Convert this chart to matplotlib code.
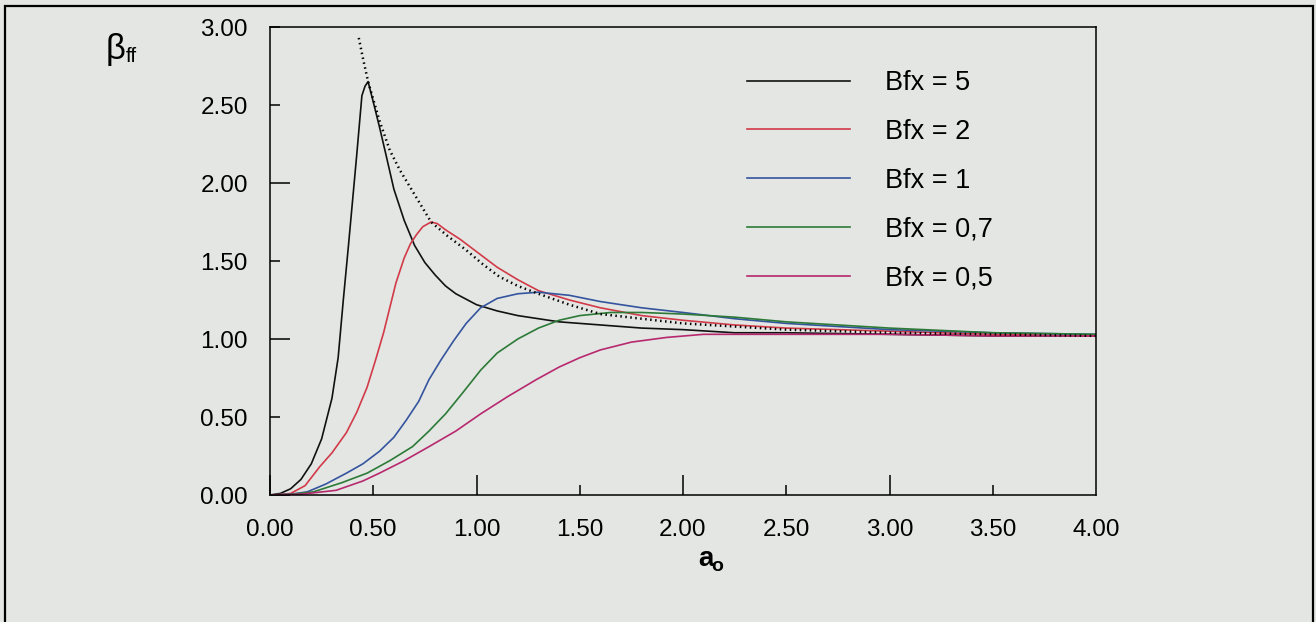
import numpy as np
import matplotlib
matplotlib.use("Agg")
import matplotlib.pyplot as plt
from matplotlib.patches import Rectangle

plt.rcParams['font.family'] = ['Liberation Sans', 'DejaVu Sans']

# valores (a_o x beta_ff)
x_b5 = [0, 0.05, 0.10, 0.15, 0.20, 0.25, 0.30, 0.33, 0.355, 0.38, 0.40, 0.42, 0.445, 0.46, 0.475,
        0.50, 0.53, 0.56, 0.60, 0.65, 0.70, 0.75, 0.80, 0.85, 0.90, 1.00, 1.10, 1.20, 1.40, 1.60,
        1.80, 2.00, 2.25, 2.50, 3.00, 3.50, 4.00]
y_b5 = [0, 0.01, 0.04, 0.10, 0.20, 0.36, 0.62, 0.88, 1.25, 1.60, 1.89, 2.18, 2.56, 2.62, 2.65,
        2.52, 2.36, 2.19, 1.96, 1.76, 1.60, 1.49, 1.41, 1.34, 1.29, 1.22, 1.18, 1.15, 1.11, 1.09,
        1.07, 1.06, 1.04, 1.04, 1.03, 1.02, 1.02]

x_b2 = [0, 0.05, 0.10, 0.17, 0.24, 0.30, 0.37, 0.42, 0.47, 0.51, 0.55, 0.58, 0.61, 0.65, 0.68,
        0.71, 0.74, 0.78, 0.81, 0.85, 0.92, 1.00, 1.10, 1.20, 1.30, 1.45, 1.60, 1.80, 2.00, 2.25,
        2.50, 3.00, 3.50, 4.00]
y_b2 = [0, 0.003, 0.01, 0.06, 0.18, 0.27, 0.40, 0.53, 0.69, 0.86, 1.04, 1.20, 1.36, 1.52, 1.61,
        1.67, 1.72, 1.75, 1.74, 1.70, 1.64, 1.56, 1.46, 1.38, 1.31, 1.25, 1.20, 1.15, 1.12, 1.09,
        1.07, 1.05, 1.03, 1.02]

x_b1 = [0, 0.10, 0.18, 0.27, 0.37, 0.45, 0.53, 0.60, 0.66, 0.72, 0.77, 0.83, 0.89, 0.95, 1.02,
        1.10, 1.20, 1.30, 1.45, 1.60, 1.80, 2.00, 2.25, 2.50, 3.00, 3.50, 4.00]
y_b1 = [0, 0.005, 0.02, 0.07, 0.14, 0.20, 0.28, 0.37, 0.48, 0.60, 0.74, 0.87, 0.99, 1.10, 1.20,
        1.26, 1.29, 1.30, 1.28, 1.24, 1.20, 1.17, 1.13, 1.10, 1.06, 1.04, 1.03]

x_b07 = [0, 0.10, 0.21, 0.35, 0.47, 0.58, 0.69, 0.77, 0.85, 0.93, 1.02, 1.10, 1.20, 1.30, 1.40,
         1.50, 1.65, 1.80, 2.00, 2.25, 2.50, 3.00, 3.50, 4.00]
y_b07 = [0, 0.004, 0.02, 0.08, 0.14, 0.22, 0.31, 0.41, 0.52, 0.65, 0.80, 0.91, 1.00, 1.07, 1.12,
         1.15, 1.17, 1.17, 1.16, 1.14, 1.11, 1.07, 1.04, 1.03]

x_b05 = [0, 0.15, 0.32, 0.45, 0.53, 0.65, 0.77, 0.90, 1.02, 1.15, 1.29, 1.40, 1.50, 1.60, 1.75,
         1.92, 2.10, 2.25, 2.50, 3.00, 3.50, 4.00]
y_b05 = [0, 0.005, 0.03, 0.09, 0.14, 0.22, 0.31, 0.41, 0.52, 0.63, 0.74, 0.82, 0.88, 0.93, 0.98,
         1.01, 1.03, 1.03, 1.03, 1.03, 1.02, 1.02]

x_env = [0.43, 0.45, 0.475, 0.53, 0.58, 0.63, 0.68, 0.73, 0.78, 0.86, 0.95, 1.03, 1.11, 1.20,
         1.30, 1.45, 1.60, 1.80, 2.00, 2.50, 3.00, 3.50, 4.00]
y_env = [2.93, 2.80, 2.65, 2.40, 2.21, 2.08, 1.97, 1.86, 1.75, 1.66, 1.57, 1.48, 1.40, 1.34,
         1.29, 1.22, 1.16, 1.13, 1.10, 1.06, 1.04, 1.03, 1.02]

series = [
    ('Bfx = 5', x_b5, y_b5, '#111111'),
    ('Bfx = 2', x_b2, y_b2, '#d23a48'),
    ('Bfx = 1', x_b1, y_b1, '#35549e'),
    ('Bfx = 0,7', x_b07, y_b07, '#2c7a36'),
    ('Bfx = 0,5', x_b05, y_b05, '#b8286e'),
]

x_major = [0.0, 1.0, 2.0, 3.0]
x_minor = [0.5, 1.5, 2.5, 3.5, 4.0]
y_major = [0.0, 1.0, 2.0]
y_minor = [0.5, 1.5, 2.5, 3.0]

fundo = '#e3e6e3'
fig = plt.figure(figsize=(13.16, 6.22), dpi=100, facecolor=fundo)
ax = fig.add_axes([270/1316, 1-495/622, (1096-270)/1316, (495-27)/622])
ax.set_facecolor(fundo)

for nome, xs, ys, cor in series:
    ax.plot(xs, ys, color=cor, lw=1.2, label=nome)
ax.plot(x_env, y_env, color='black', lw=1.8, linestyle=(0, (0.6, 1.4)))

ax.set_xlim(0, 4)
ax.set_ylim(0, 3)

ax.set_xticks(x_major)
ax.set_xticks(x_minor, minor=True)
ax.set_xticklabels(['%.2f' % v for v in x_major])
ax.set_xticklabels(['%.2f' % v for v in x_minor], minor=True)
ax.set_yticks(y_major)
ax.set_yticks(y_minor, minor=True)
ax.set_yticklabels(['%.2f' % v for v in y_major])
ax.set_yticklabels(['%.2f' % v for v in y_minor], minor=True)

ax.tick_params(which='both', direction='in', labelsize=17.5, width=1.1, color='black')
ax.tick_params(axis='x', which='both', pad=17)
ax.tick_params(axis='y', which='both', pad=16)
ax.tick_params(which='major', length=14.5)
ax.tick_params(which='minor', length=7.5)
# o tick de 4.00 coincide com a borda direita
ax.xaxis.get_minor_ticks()[-1].tick1line.set_visible(False)
for s in ax.spines.values():
    s.set_linewidth(1.1)

fig.text(105/1316, 1-50/622, r'$\mathregular{\beta}$', fontsize=25, ha='left', va='center')
fig.text(126/1316, 1-56/622, 'ff', fontsize=15, ha='left', va='center')
fig.text(698/1316, 1-566/622, 'a', fontsize=20, fontweight='bold', ha='left', va='baseline')
fig.text(711/1316, 1-571/622, 'o', fontsize=14, fontweight='bold', ha='left', va='baseline')

leg = ax.legend(loc='upper left', bbox_to_anchor=(747/1316, 1-70/622),
                bbox_transform=fig.transFigure, frameon=False, fontsize=19.5,
                handlelength=3.8, handletextpad=1.3, labelspacing=0.845,
                borderpad=0, borderaxespad=0)

fig.add_artist(Rectangle((5/1316, -0.05), (1313-5)/1316, 1.05-6/622, transform=fig.transFigure,
                         fill=False, edgecolor='black', lw=1.6))

fig.savefig('out.png', dpi=100, facecolor=fundo)
